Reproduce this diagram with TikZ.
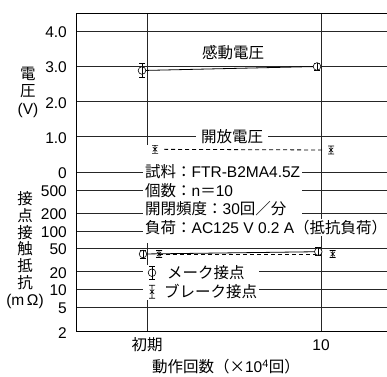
\documentclass[tikz,border=0pt]{standalone}
\usepackage{fontspec}
\setmainfont{Liberation Sans}
\newfontfamily\jp{Noto Sans CJK JP}
\tikzset{%
	make/.pic={%
		\draw (0,-#1) -- (0,#1) (-3,-#1) -- (3,-#1) (-3,#1) -- (3,#1);
		\draw [fill=white] (0,0) circle (3.8pt);
		\draw (0,-3.8) -- (0,3.8);},
	brk/.pic={%
		\draw (0,-#1) -- (0,#1) (-3,-#1) -- (3,-#1) (-3,#1) -- (3,#1)
			(-2.2,-2.2) -- (2.2,2.2) (-2.2,2.2) -- (2.2,-2.2);}
}

\begin{document}
\begin{tikzpicture}[x=1pt, y=-1pt, font=\fontsize{15.5}{18.5}\selectfont,
		grid/.style={black!85, line width=0.8pt},
		box/.style={fill=white, inner xsep=2pt, inner ysep=1pt},
		dashline/.style={dash pattern=on 4pt off 3pt}]
	\useasboundingbox (0,0) rectangle (387,376);
	\foreach \y/\t [count=\i] in {31/4.0, 66.3/3.0, 101.7/2.0, 136.7/1.0, 172.3/0, 190/500, 213.3/200,
			231/100, 248.3/50, 271.7/20, 289.3/10, 307.7/5, 331.7/2} {
		\draw [grid] (76,\y) -- (387,\y);
		\node (tick\i) [anchor=east, inner sep=0pt] at (67,\y+1) {\t};
	}
	\draw [grid] (321,13) -- (321,331.7);
	\draw [grid] (147,13) -- (147,145) (147,243) -- (147,331.7);
	\draw [line width=1pt] (387,13) -- (76,13) -- (76,331.7) -- (387,331.7);
	% axis titles
	\node (vtitle) [align=center, font=\fontsize{15.5}{17.5}\selectfont] at (28,92) {{\jp 電}\\{\jp 圧}\\(V)};
	\node (rtitle) [align=center, font=\fontsize{15.5}{16.7}\selectfont] at (25,250)
		{{\jp 接}\\{\jp 点}\\{\jp 接}\\{\jp 触}\\{\jp 抵}\\{\jp 抗}\\(m\,Ω)};
	\node (first) at (147,345) {\jp 初期};
	\node (tenth) at (321,345) {10};
	\node (xtitle) at (226,367) {{\jp 動作回数（×}10\textsuperscript{4}{\jp 回）}};
	% labels
	\node (sense) at (233,53) {\jp 感動電圧};
	\node (open) [box, inner xsep=5pt] at (232,137) {\jp 開放電圧};
	\node (spec) [box, anchor=west, align=left] at (143,190.5)
		{{\jp 試料：}FTR-B2MA4.5Z\\{\jp 個数：}n{\jp ＝}10\\{\jp 開閉頻度：}30{\jp 回／分}};
	\node (load) [box, anchor=west] at (143,227.5) {{\jp 負荷：}AC125 V 0.2 A{\jp （抵抗負荷）}};
	\node (legend) [box, anchor=west, align=left] at (143,282.2)
		{\hspace*{22pt}{\jp メーク接点}\\\hspace*{19pt}{\jp ブレーク接点}};
	% data
	\coordinate (v0) at (142,70.5);
	\coordinate (v10) at (317,66.5);
	\coordinate (o0) at (155,149.3);
	\coordinate (o10) at (331,150);
	\coordinate (m0) at (143,254);
	\coordinate (m10) at (318.3,251.7);
	\coordinate (b0) at (159,254);
	\coordinate (b10) at (332.7,254);
	\draw [line width=0.8pt] (v0) -- (v10);
	\draw [line width=0.8pt, dashline, shorten <=9pt, shorten >=9pt] (o0) -- (o10);
	\draw [line width=0.8pt] (m0) -- (m10);
	\draw [line width=0.8pt, dashline, shorten >=16pt] (b0) -- (b10);
	\begin{scope}[line width=0.6pt]
		\pic at (v0) {make=7};
		\pic at (v10) {make=3.5};
		\pic at (o0) {brk=4};
		\pic at (o10) {brk=4};
		\pic at (m0) {make=4};
		\pic at (m10) {make=4};
		\pic at (b0) {brk=3.5};
		\pic at (b10) {brk=3.5};
		\pic at (152,272.7) {make=6.5};
		\pic at (152,291.7) {brk=6.5};
	\end{scope}
\end{tikzpicture}
\end{document}
